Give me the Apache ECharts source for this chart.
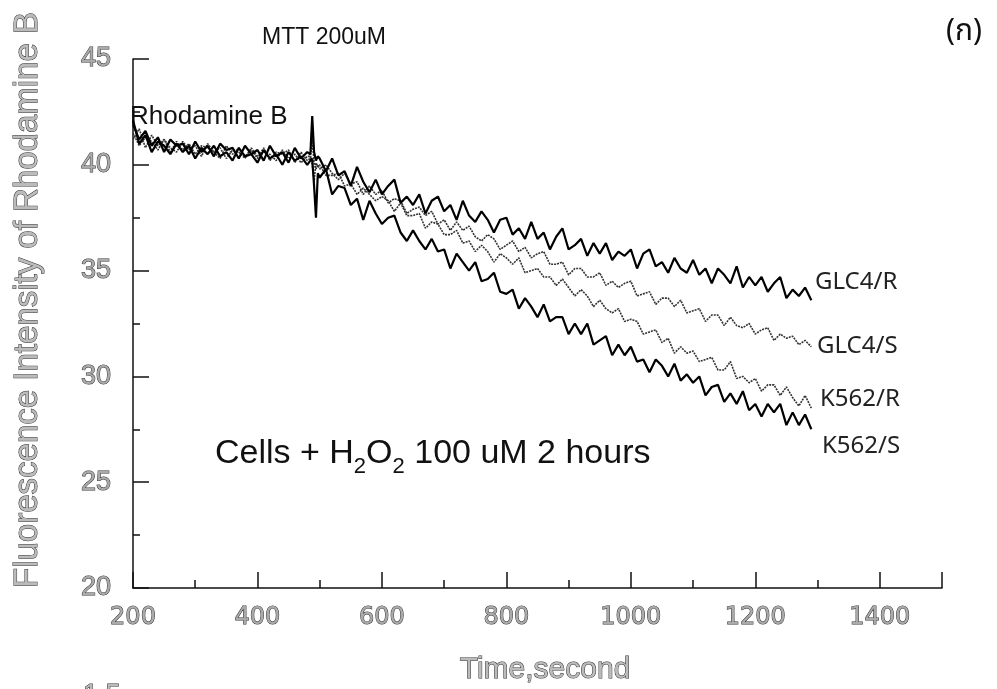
<!DOCTYPE html>
<html><head><meta charset="utf-8">
<script src="https://cdn.jsdelivr.net/npm/echarts@6/dist/echarts.min.js"></script>
<style>html,body{margin:0;padding:0;background:#fff}#c{width:997px;height:689px}</style>
</head><body><div id="c"></div>
<script>
// time (s)
const times = [200,210,220,230,240,250,260,270,280,290,300,310,320,330,340,350,360,370,380,390,400,410,420,430,440,450,460,470,480,
485,488,491,494,497,
500,510,520,530,540,550,560,570,580,590,600,610,620,630,640,650,660,670,680,690,700,710,720,730,740,750,760,770,780,790,
800,810,820,830,840,850,860,870,880,890,900,910,920,930,940,950,960,970,980,990,1000,1010,1020,1030,1040,1050,1060,1070,1080,1090,
1100,1110,1120,1130,1140,1150,1160,1170,1180,1190,1200,1210,1220,1230,1240,1250,1260,1270,1280,1290];

const glc4R = [41.9,41.2,41.6,40.9,41.3,40.6,41.2,40.9,41.0,40.5,41.1,40.6,40.9,40.4,41.0,40.7,40.8,40.3,40.9,40.5,40.7,40.2,40.9,40.4,40.6,40.1,40.8,40.3,40.6,
40.5,42.3,40.6,40.2,40.4,
40.3,39.7,40.3,39.5,39.7,39.0,39.9,39.2,38.7,39.3,
38.6,39.0,39.3,38.2,38.5,38.1,38.6,37.7,38.3,38.5,
37.8,38.1,37.4,38.3,37.6,37.3,37.8,37.4,36.8,37.4,
37.5,36.7,37.0,36.5,37.3,36.5,36.8,36.0,36.6,37.0,
36.0,36.2,36.5,35.7,36.3,35.8,36.3,35.5,35.9,35.7,
36.0,35.1,35.8,36.0,35.2,35.4,34.9,35.6,35.1,34.9,
35.5,34.8,35.1,34.4,35.1,34.8,34.4,35.2,34.2,34.7,
34.3,34.7,34.0,34.4,34.7,33.7,34.1,33.8,34.2,33.6];

const glc4S = [41.2,41.7,40.8,41.4,40.9,41.2,40.6,41.1,40.7,41.0,40.5,40.9,40.8,40.6,40.3,40.9,40.5,40.8,40.4,40.7,40.3,40.8,40.2,40.6,40.5,40.7,40.1,40.6,40.2,
40.3,41.2,40.1,39.8,40.0,
39.8,40.0,39.6,39.3,39.6,39.1,39.2,38.6,39.0,38.6,
38.8,38.2,38.4,38.3,37.7,37.9,38.0,37.6,37.8,37.2,
37.4,36.9,37.3,36.9,37.1,36.6,36.4,36.7,36.5,36.0,
36.2,36.4,35.9,36.1,35.6,35.8,35.9,35.3,35.3,35.4,
34.8,35.1,35.1,34.7,34.7,34.9,34.3,34.5,34.2,34.4,
34.5,33.8,33.9,34.0,33.4,33.7,33.7,33.3,33.6,33.0,
33.1,33.2,32.6,32.9,32.9,32.4,32.8,32.4,32.3,32.5,
32.0,32.2,32.3,31.7,32.0,31.8,31.9,31.5,31.7,31.4];

const k562R = [41.5,40.9,41.3,41.1,40.7,41.2,40.8,40.6,41.1,40.7,40.9,40.4,41.0,40.6,40.8,40.3,40.7,40.6,40.3,40.8,40.4,40.6,40.5,40.2,40.7,40.3,40.5,40.1,40.4,
40.4,40.0,39.2,40.1,39.9,
40.0,39.5,39.5,39.6,39.0,39.1,38.6,38.9,38.6,38.3,
38.5,38.3,37.8,38.2,37.6,37.6,37.7,37.0,37.3,37.2,
36.7,36.7,36.9,36.3,36.4,35.9,36.2,35.9,35.4,35.8,
35.6,35.3,35.6,34.9,35.0,35.1,34.7,34.7,34.3,34.6,
34.2,33.8,34.1,33.8,33.3,33.6,33.2,33.0,33.2,32.6,
32.7,32.6,32.0,32.1,32.2,31.6,31.8,31.1,31.4,31.1,
31.2,30.7,30.8,30.9,30.3,30.3,30.7,29.9,30.0,29.7,
29.9,29.3,29.6,29.6,29.1,29.5,29.0,28.6,29.1,28.5];

const k562S = [42.1,41.0,41.4,40.6,41.1,40.9,40.5,41.0,40.6,40.9,40.3,40.8,40.5,40.9,40.4,40.6,40.2,40.8,40.4,40.5,40.1,40.7,40.3,40.5,40.0,40.6,40.2,40.4,40.0,
40.2,40.3,39.0,37.5,39.6,
39.4,39.8,38.6,39.0,38.9,38.1,38.4,37.4,38.3,37.7,
37.2,37.5,37.6,36.8,36.4,36.9,36.4,36.0,36.5,35.9,
36.0,35.1,35.8,35.4,35.0,35.4,34.5,34.6,34.9,34.0,
33.9,34.1,33.2,33.7,33.3,32.8,33.4,32.6,32.8,32.8,
32.0,32.5,32.0,32.5,31.5,31.7,31.9,31.0,31.5,31.0,
31.4,30.7,30.8,30.2,30.8,30.5,30.0,30.6,29.8,30.1,
29.7,30.0,29.1,29.5,29.6,28.8,29.2,28.7,29.3,28.4,
28.7,28.1,28.7,28.3,28.7,27.7,28.3,27.7,28.2,27.5];

const xTickLabels = [200,400,600,800,1000,1200,1400];
const yTickLabels = [20,25,30,35,40,45];
const seriesNames = ['GLC4/R','GLC4/S','K562/R','K562/S'];

const chart = echarts.init(document.getElementById('c'), null, {renderer:'canvas'});
const pairs = arr => times.map((t,i)=>[t, arr[i]]);

const hollow = {color:'#aaaaaa', textBorderColor:'#333', textBorderWidth:1};

chart.setOption({
  animation:false,
  backgroundColor:'#fff',
  grid:{left:133, right:55, top:59, bottom:101, containLabel:false},
  xAxis:{
    type:'value', min:200, max:1500, interval:200,
    axisLine:{show:true, onZero:false, lineStyle:{color:'#111', width:1.5}},
    axisTick:{show:true, inside:true, length:16, lineStyle:{color:'#111', width:1.5}},
    minorTick:{show:true, splitNumber:2, length:8, lineStyle:{color:'#111', width:1.5}},
    splitLine:{show:false}, minorSplitLine:{show:false},
    axisLabel:Object.assign({margin:18, fontFamily:'DejaVu Sans', fontSize:24,
      formatter:v => xTickLabels.includes(v) ? String(v) : ''}, hollow)
  },
  yAxis:{
    type:'value', min:20, max:45, interval:5,
    axisLine:{show:true, onZero:false, lineStyle:{color:'#111', width:1.5}},
    axisTick:{show:true, inside:true, length:16, lineStyle:{color:'#111', width:1.5}},
    minorTick:{show:true, splitNumber:2, length:7, lineStyle:{color:'#111', width:1.5}},
    splitLine:{show:false}, minorSplitLine:{show:false},
    axisLabel:Object.assign({margin:22, fontFamily:'Liberation Sans', fontSize:27,
      formatter:v => yTickLabels.includes(v) ? String(v) : ''}, hollow)
  },
  series:[
    {name:seriesNames[1], type:'line', data:pairs(glc4S), showSymbol:false, lineStyle:{color:'#333', width:1.6, type:[2,1]}, z:2},
    {name:seriesNames[2], type:'line', data:pairs(k562R), showSymbol:false, lineStyle:{color:'#333', width:1.6, type:[2,1]}, z:2},
    {name:seriesNames[0], type:'line', data:pairs(glc4R), showSymbol:false, lineStyle:{color:'#000', width:2.2}, z:3},
    {name:seriesNames[3], type:'line', data:pairs(k562S), showSymbol:false, lineStyle:{color:'#000', width:2.2}, z:3}
  ],
  graphic:[
    {type:'text', x:28, y:300, rotation:Math.PI/2, style:{text:'Fluorescence Intensity of Rhodamine B', fontFamily:'Liberation Sans', fontSize:33, fill:'#bbb', stroke:'#333', lineWidth:1, align:'center', verticalAlign:'middle'}},
    {type:'text', x:545, y:670, style:{text:'Time,second', fontFamily:'Liberation Sans', fontSize:30, fill:'#bbb', stroke:'#333', lineWidth:1, align:'center', verticalAlign:'middle'}},
    {type:'text', x:262, y:38, style:{text:'MTT 200uM', fontFamily:'Liberation Sans', fontSize:23, fill:'#111', align:'left', verticalAlign:'middle'}},
    {type:'text', x:946, y:31, style:{text:'(ก)', fontFamily:'Noto Sans, Noto Sans Thai, DejaVu Sans, sans-serif', fontSize:30, fill:'#111', align:'left', verticalAlign:'middle'}},
    {type:'text', x:130, y:117, style:{text:'Rhodamine B', fontFamily:'Liberation Sans', fontSize:26, fill:'#111', align:'left', verticalAlign:'middle'}},
    {type:'text', x:215, y:454, style:{text:'{a|Cells + H}{s|2}{a|O}{s|2}{a| 100 uM 2 hours}', align:'left', verticalAlign:'middle',
      rich:{a:{fontFamily:'Liberation Sans', fontSize:34, fill:'#111', lineHeight:48, verticalAlign:'middle'},
            s:{fontFamily:'Liberation Sans', fontSize:22, fill:'#111', lineHeight:16, verticalAlign:'bottom'}}}},
    {type:'text', x:815, y:282, style:{text:seriesNames[0], fontFamily:'Noto Sans', fontSize:24, fill:'#222', align:'left', verticalAlign:'middle'}},
    {type:'text', x:817, y:346, style:{text:seriesNames[1], fontFamily:'Noto Sans', fontSize:24, fill:'#222', align:'left', verticalAlign:'middle'}},
    {type:'text', x:820, y:399, style:{text:seriesNames[2], fontFamily:'Noto Sans', fontSize:24, fill:'#222', align:'left', verticalAlign:'middle'}},
    {type:'text', x:822, y:446, style:{text:seriesNames[3], fontFamily:'Noto Sans', fontSize:24, fill:'#222', align:'left', verticalAlign:'middle'}},
    {type:'text', x:83, y:682, style:{text:'1.5', fontFamily:'Liberation Sans', fontSize:27, fill:'#bbb', stroke:'#333', lineWidth:1, align:'left', verticalAlign:'top'}}
  ]
});
</script>
</body></html>
